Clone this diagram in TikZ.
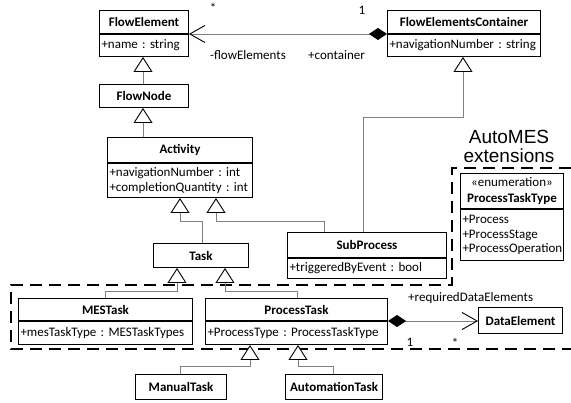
\documentclass[tikz,border=0pt]{standalone}
\usepackage{fontspec}
\setmainfont{Carlito}
\newfontfamily\labelfont{Liberation Sans}
\usetikzlibrary{arrows.meta}
\frenchspacing
\begin{document}
\begin{tikzpicture}[x=1pt,y=-1pt,
  every node/.style={font=\fontsize{13}{14.5}\selectfont},
  box/.style={draw=black, line width=1pt, inner sep=0pt, anchor=north west, fill=white},
  head/.style={box, font=\fontsize{13}{14.5}\selectfont\bfseries, align=center},
  attr/.style={box, align=left, inner xsep=2pt, inner ysep=0pt},
  conn/.style={draw=black!50, line width=0.8pt},
  gen/.style={conn, -{Triangle[width=19pt, length=15pt, line width=0.9pt, color=black, fill=white]}},
  comp/.style={conn, {Diamond[width=12pt, length=18pt, color=black]}-{Straight Barb[width=17pt, length=15pt, line width=0.9pt, color=black]}},
  lbl/.style={inner sep=0pt},
  region/.style={draw=black, line width=1.8pt, dash pattern=on 12pt off 7pt}
]
\useasboundingbox (0,0) rectangle (571,403);

% package boundary of the AutoMES extensions
\draw[region] (571,168) -- (452,168) -- (452,285) -- (11,285) -- (11,349) -- (571,349);
\node[font=\labelfont\fontsize{19}{19}\selectfont, align=center, inner sep=0pt] (ext) at (509,146) {AutoMES\\extensions};

% classes
\node[head, minimum width=89pt, minimum height=23pt] (fe) at (99,10) {FlowElement};
\node[attr, text width=85pt, minimum height=22pt] (fe-a) at (fe.south west) {+name : string};

\node[head, minimum width=89pt, minimum height=23pt] (fn) at (99,84) {FlowNode};

\node[head, minimum width=145pt, minimum height=25pt] (act) at (107,137) {Activity};
\node[attr, text width=141pt, minimum height=34pt] (act-a) at (act.south west) {+navigationNumber : int\\+completionQuantity : int};

\node[head, minimum width=153pt, minimum height=23pt] (fec) at (387,10) {FlowElementsContainer};
\node[attr, text width=149pt, minimum height=22pt] (fec-a) at (fec.south west) {+navigationNumber : string};

\node[head, minimum width=159pt, minimum height=25pt] (sp) at (287,232) {SubProcess};
\node[attr, text width=155pt, minimum height=20pt] (sp-a) at (sp.south west) {+triggeredByEvent : bool};

\node[head, minimum width=95pt, minimum height=24pt] (task) at (153,243) {Task};

\node[head, minimum width=174pt, minimum height=22pt] (mes) at (18,298) {MESTask};
\node[attr, text width=170pt, minimum height=23pt] (mes-a) at (mes.south west) {+mesTaskType : MESTaskTypes};

\node[head, minimum width=182pt, minimum height=22pt] (pt) at (205,298) {ProcessTask};
\node[attr, text width=178pt, minimum height=23pt] (pt-a) at (pt.south west) {+ProcessType : ProcessTaskType};

\node[head, minimum width=91pt, minimum height=25pt] (mt) at (135,374) {ManualTask};
\node[head, minimum width=97pt, minimum height=25pt] (at) at (285,374) {AutomationTask};

\node[head, minimum width=84pt, minimum height=26pt] (de) at (478,307) {DataElement};

\node[head, minimum width=103pt, minimum height=35pt] (ptt) at (460,173) {{\mdseries «enumeration»}\\[1pt]ProcessTaskType};
\node[attr, text width=99pt, minimum height=51pt] (ptt-a) at (ptt.south west) {+Process\\+ProcessStage\\+ProcessOperation};

% generalizations
\draw[gen] ([xshift=44pt]fn.north west) -- ([xshift=44pt]fe-a.south west);
\draw[gen] ([xshift=36pt]act.north west) -- ([xshift=44pt]fn.south west);
\draw[gen] ([xshift=49pt]task.north west) |- ([xshift=73pt,yshift=-23pt]act-a.south west) -- ([xshift=73pt]act-a.south west);
\draw[gen] ([xshift=37pt]sp.north west) |- ([xshift=109pt,yshift=-23pt]act-a.south west) -- ([xshift=109pt]act-a.south west);
\draw[gen] ([xshift=76pt]sp.north west) |- ([xshift=76pt,yshift=-60pt]fec-a.south west) -- ([xshift=76pt]fec-a.south west);
\draw[gen] ([xshift=87pt]mes.north west) |- ([xshift=24pt,yshift=-23pt]task.south west) -- ([xshift=24pt]task.south west);
\draw[gen] ([xshift=92pt]pt.north west) |- ([xshift=72pt,yshift=-23pt]task.south west) -- ([xshift=72pt]task.south west);
\draw[gen] ([xshift=45pt]mt.north west) |- ([xshift=45pt,yshift=-21pt]pt-a.south west) -- ([xshift=45pt]pt-a.south west);
\draw[gen] ([xshift=48pt]at.north west) |- ([xshift=93pt,yshift=-21pt]pt-a.south west) -- ([xshift=93pt]pt-a.south west);

% compositions
\draw[comp] (fec.south west) -- (fe.south east);
\draw[comp] (pt.south east) -- (de.west |- pt.south east);

% association end labels
\node[lbl] (fe-mult) at (213,8) {*};
\node[lbl] (fec-mult) at (362,10) {1};
\node[lbl, anchor=west] (fe-role) at (210,55) {-flowElements};
\node[lbl, anchor=west] (fec-role) at (308,55) {+container};
\node[lbl, anchor=west] (de-role) at (408,298) {+requiredDataElements};
\node[lbl] (pt-mult) at (410,342) {1};
\node[lbl] (de-mult) at (455,343) {*};
\end{tikzpicture}
\end{document}
